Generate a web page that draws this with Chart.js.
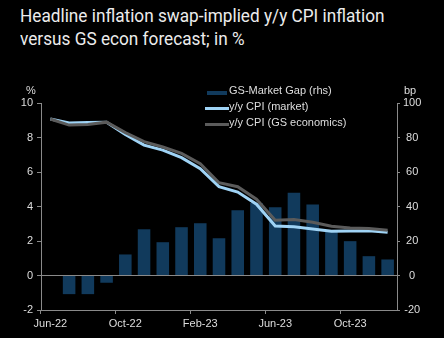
<!DOCTYPE html>
<html>
<head>
<meta charset="utf-8">
<script src="https://cdn.jsdelivr.net/npm/chart.js@4.4.1/dist/chart.umd.min.js"></script>
<style>
    html, body { margin: 0; padding: 0; background: #000; }
    #wrap { position: relative; width: 444px; height: 338px; overflow: hidden; }
    #title {
        position: absolute; left: 20px; top: 5px;
        font-family: Roboto, "Noto Sans", sans-serif; font-size: 18.5px; line-height: 22.5px;
        color: #ececec; white-space: nowrap;
        transform: scaleX(0.93); transform-origin: left top;
    }
    canvas { position: absolute; left: 0; top: 0; }
</style>
</head>
<body>
<div id="wrap">
    <div id="title">Headline inflation swap-implied y/y CPI inflation<br>versus GS econ forecast; in %</div>
    <canvas id="chart" width="444" height="338"></canvas>
</div>
<script>
// Monthly categories
const months = ['Jun-22', 'Jul-22', 'Aug-22', 'Sep-22', 'Oct-22', 'Nov-22', 'Dec-22',
    'Jan-23', 'Feb-23', 'Mar-23', 'Apr-23', 'May-23', 'Jun-23', 'Jul-23', 'Aug-23',
    'Sep-23', 'Oct-23', 'Nov-23', 'Dec-23'];

// GS minus market gap, bp (right axis)
const gapBp = [null, -10.8, -10.8, -4.2, 12.2, 26.8, 19.3, 28.0, 30.3, 21.6,
    37.8, 42.0, 39.6, 47.9, 41.1, 26.0, 19.9, 11.2, 9.3];

// y/y CPI priced by inflation swaps, % (left axis)
const cpiMarket = [9.07, 8.84, 8.87, 8.89, 8.18, 7.56, 7.27, 6.83, 6.19, 5.15,
    4.84, 4.13, 2.87, 2.82, 2.70, 2.56, 2.58, 2.60, 2.51];

// y/y CPI, GS economics forecast, % (left axis)
const cpiGs = [9.07, 8.72, 8.76, 8.89, 8.28, 7.76, 7.45, 7.08, 6.48, 5.38,
    5.15, 4.42, 3.20, 3.24, 3.09, 2.85, 2.76, 2.72, 2.62];

const leftTicks = { min: -2, max: 10, step: 2 };
const rightTicks = { min: -20, max: 100, step: 20 };

const BAR = '#113a5c';
const MARKET = '#9fd3f5';
const GS = '#5b5b5b';
const AXIS = '#8a8a8a';
const TEXT = '#dedede';
const FONT = '"Liberation Sans", Arial, sans-serif';

/**
 * Legend and axis unit labels drawn on the canvas
 */
const overlayPlugin = {
    id: 'overlay',
    afterDraw(chart) {
        const ctx = chart.ctx;
        ctx.save();
        ctx.font = '11px ' + FONT;
        ctx.fillStyle = TEXT;
        ctx.textBaseline = 'middle';

        ctx.textAlign = 'center';
        ctx.fillText('%', 31, 91);
        ctx.fillText('bp', 410, 91);

        ctx.textAlign = 'left';
        const items = [
            { text: 'GS-Market Gap (rhs)', kind: 'bar', color: BAR },
            { text: 'y/y CPI (market)', kind: 'line', color: MARKET },
            { text: 'y/y CPI (GS economics)', kind: 'line', color: GS }
        ];
        items.forEach((item, i) => {
            const y = 91 + i * 16;
            if (item.kind === 'bar') {
                ctx.fillStyle = item.color;
                ctx.fillRect(207, y, 20, 4);
            } else {
                ctx.strokeStyle = item.color;
                ctx.lineWidth = 3;
                ctx.beginPath();
                ctx.moveTo(205, y + 1.5);
                ctx.lineTo(229, y + 1.5);
                ctx.stroke();
            }
            ctx.fillStyle = TEXT;
            ctx.fillText(item.text, 229, y);
        });
        ctx.restore();
    }
};

function createChart() {
    const ctx = document.getElementById('chart');

    new Chart(ctx, {
        type: 'bar',
        data: {
            labels: months,
            datasets: [
                {
                    label: 'y/y CPI (GS economics)',
                    type: 'line',
                    data: cpiGs,
                    yAxisID: 'y',
                    borderColor: GS,
                    borderWidth: 3,
                    pointRadius: 0,
                    tension: 0,
                    order: 1
                },
                {
                    label: 'y/y CPI (market)',
                    type: 'line',
                    data: cpiMarket,
                    yAxisID: 'y',
                    borderColor: MARKET,
                    borderWidth: 3,
                    pointRadius: 0,
                    tension: 0,
                    order: 2
                },
                {
                    label: 'GS-Market Gap (rhs)',
                    data: gapBp,
                    yAxisID: 'y1',
                    backgroundColor: BAR,
                    barPercentage: 0.67,
                    categoryPercentage: 1,
                    order: 3
                }
            ]
        },
        options: {
            responsive: false,
            animation: false,
            layout: { padding: { top: 103, left: 0, right: 0, bottom: 0 } },
            plugins: {
                legend: { display: false },
                tooltip: { enabled: false }
            },
            scales: {
                x: {
                    type: 'category',
                    offset: true,
                    border: { color: AXIS, width: 1 },
                    grid: {
                        offset: true,
                        drawOnChartArea: false,
                        tickLength: 4,
                        color: 'transparent',
                        tickColor: (c) => (c.index % 4 === 0 ? AXIS : 'transparent')
                    },
                    ticks: {
                        autoSkip: false,
                        maxRotation: 0,
                        padding: 3,
                        color: TEXT,
                        font: { family: FONT, size: 11 },
                        callback: (v, i) => (i % 4 === 0 ? months[i] : '')
                    },
                    afterFit: (s) => { s.height = 28; }
                },
                y: {
                    position: 'left',
                    min: leftTicks.min,
                    max: leftTicks.max,
                    border: { color: AXIS, width: 1 },
                    grid: {
                        drawOnChartArea: true,
                        tickLength: 4,
                        color: (c) => (c.tick && c.tick.value === 0 ? AXIS : 'transparent'),
                        tickColor: AXIS
                    },
                    ticks: {
                        stepSize: leftTicks.step,
                        padding: 4,
                        color: TEXT,
                        font: { family: FONT, size: 11 }
                    },
                    afterFit: (s) => { s.width = 41; }
                },
                y1: {
                    position: 'right',
                    min: rightTicks.min,
                    max: rightTicks.max,
                    border: { color: AXIS, width: 1 },
                    grid: {
                        drawOnChartArea: false,
                        tickLength: 3,
                        tickColor: AXIS
                    },
                    ticks: {
                        stepSize: rightTicks.step,
                        padding: 3,
                        crossAlign: 'center',
                        color: TEXT,
                        font: { family: FONT, size: 11 }
                    },
                    afterFit: (s) => { s.width = 47; }
                }
            }
        },
        plugins: [overlayPlugin]
    });
}

document.addEventListener('DOMContentLoaded', createChart);
</script>
</body>
</html>
